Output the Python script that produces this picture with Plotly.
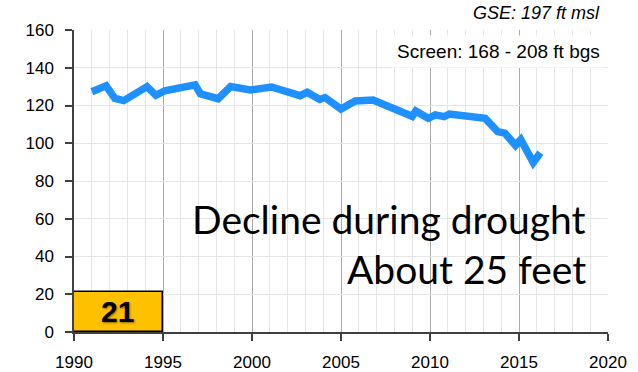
import plotly.graph_objects as go

# Groundwater level record (ft msl)
years = [1991.0, 1991.8, 1992.3, 1992.8, 1994.1, 1994.6, 1995.1, 1996.0, 1996.8,
         1997.1, 1998.1, 1998.8, 1999.9, 2001.1, 2001.9, 2002.7, 2003.1, 2003.8,
         2004.1, 2005.0, 2005.8, 2006.8, 2009.0, 2009.2, 2009.9, 2010.3, 2010.8,
         2011.1, 2013.1, 2013.8, 2014.2, 2014.8, 2015.1, 2015.8, 2016.2]
levels = [127.3, 130.4, 123.8, 122.6, 130.0, 125.4, 127.8, 129.4, 130.9,
          126.2, 123.6, 130.0, 128.2, 129.8, 127.3, 125.2, 127.0, 123.2,
          124.2, 118.1, 122.4, 122.9, 114.3, 117.1, 113.2, 115.0, 114.1,
          115.5, 113.2, 106.2, 105.4, 98.9, 101.9, 89.8, 95.0]

# Well ID box
box_x = [1992.5]
box_width = [5]
box_value = [21]
box_label = ["21"]

x_ticks = [1990, 1995, 2000, 2005, 2010, 2015, 2020]
y_ticks = [0, 20, 40, 60, 80, 100, 120, 140, 160]

fig = go.Figure()

fig.add_trace(go.Bar(
    x=box_x, y=box_value, width=box_width,
    text=box_label, textposition="inside", insidetextanchor="middle",
    constraintext="none",
    textfont=dict(family="Arial", size=30, color="black", weight="bold",
                  shadow="1px 1px 2px rgba(0,0,0,0.45)"),
    marker=dict(color="#FFC000", line=dict(color="black", width=1.5)),
    hoverinfo="skip", showlegend=False,
))

fig.add_trace(go.Scatter(
    x=years, y=levels, mode="lines",
    line=dict(color="#1E90FF", width=7.5),
    showlegend=False,
))

fig.add_annotation(
    text="GSE: 197 ft msl", xref="paper", yref="paper",
    x=1.0, y=1.0, xanchor="right", yanchor="bottom", xshift=-6, yshift=5,
    showarrow=False,
    font=dict(family="Arial", size=18, color="black", style="italic"),
)

fig.add_annotation(
    text="Screen: 168 - 208 ft bgs", xref="paper", yref="paper",
    x=1.0, y=1.0, xanchor="right", yanchor="top", xshift=-2, yshift=-5,
    showarrow=False, bgcolor="white", borderpad=5,
    font=dict(family="Arial", size=19, color="black"),
)

fig.add_annotation(
    text="Decline during drought", xref="paper", yref="y",
    x=0.9625, y=60, xanchor="right", yanchor="middle", showarrow=False,
    font=dict(family="Lato", size=39, color="black"),
)
fig.add_annotation(
    text="About 25 feet", xref="paper", yref="y",
    x=0.9625, y=33.5, xanchor="right", yanchor="middle", showarrow=False,
    font=dict(family="Lato", size=39, color="black"),
)

fig.update_layout(
    width=638, height=372,
    margin=dict(l=74, r=30, t=30, b=40),
    paper_bgcolor="white", plot_bgcolor="white",
    bargap=0,
    font=dict(family="Arial", size=17, color="black"),
    xaxis=dict(
        range=[1990, 2020], tickvals=x_ticks, automargin=False,
        showgrid=True, gridcolor="#a9a9a9", gridwidth=1,
        minor=dict(dtick=1, tick0=1990, showgrid=True, gridcolor="#e6e6e6", ticks=""),
        ticks="outside", ticklen=7, tickcolor="#404040", tickwidth=1.5,
        showline=True, linecolor="#404040", linewidth=1.5,
        zeroline=False, ticklabelstandoff=7,
    ),
    yaxis=dict(
        range=[0, 160], tickvals=y_ticks, automargin=False,
        showgrid=True, gridcolor="#e6e6e6", gridwidth=1,
        ticks="outside", ticklen=7, tickcolor="#404040", tickwidth=1.5,
        showline=True, linecolor="#404040", linewidth=1.5,
        zeroline=False, ticklabelstandoff=8,
    ),
)

fig.write_html("out.html")
